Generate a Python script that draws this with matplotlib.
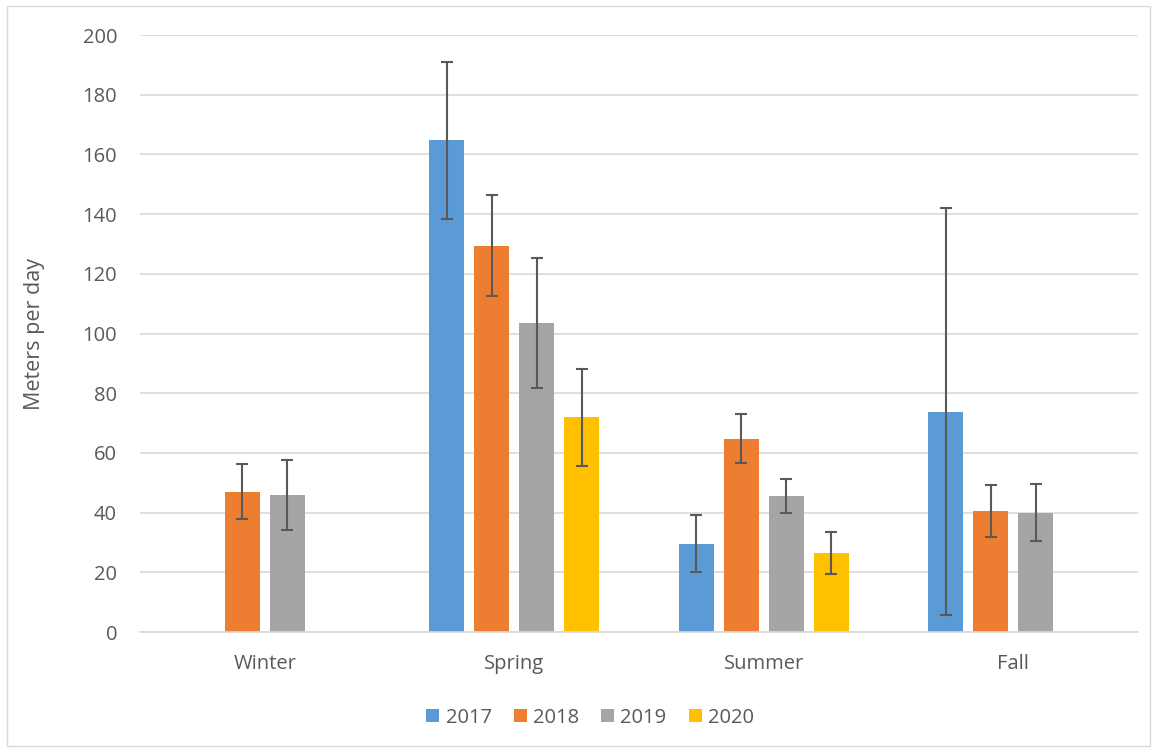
import matplotlib
matplotlib.use("Agg")
import matplotlib.pyplot as plt
from matplotlib.patches import Rectangle
import numpy as np

# Data
seasons = ["Winter", "Spring", "Summer", "Fall"]
years = ["2017", "2018", "2019", "2020"]

values = {
    "2017": [np.nan, 164.8, 29.6, 73.7],
    "2018": [46.9, 129.3, 64.7, 40.4],
    "2019": [45.8, 103.4, 45.5, 39.9],
    "2020": [np.nan, 72.0, 26.4, np.nan],
}
err_low = {
    "2017": [np.nan, 138.4, 20.1, 5.6],
    "2018": [37.8, 112.6, 56.7, 31.8],
    "2019": [34.3, 81.7, 39.8, 30.4],
    "2020": [np.nan, 55.6, 19.3, np.nan],
}
err_high = {
    "2017": [np.nan, 191.1, 39.2, 141.9],
    "2018": [56.3, 146.3, 72.9, 49.1],
    "2019": [57.7, 125.4, 51.3, 49.5],
    "2020": [np.nan, 88.1, 33.5, np.nan],
}

colors = {"2017": "#5B9BD5", "2018": "#ED7D31", "2019": "#A5A5A5", "2020": "#FFC000"}
text_color = "#595959"
grid_color = "#D9D9D9"

plt.rcParams["font.family"] = ["Open Sans", "DejaVu Sans"]

fig = plt.figure(figsize=(11.57, 7.5), dpi=100)
ax = fig.add_axes([0.121, 0.1573, 0.8626, 0.796])

# outer chart border
fig.patches.append(Rectangle((0.006, 0.006), 0.988, 0.986, transform=fig.transFigure,
                             fill=False, edgecolor="#D9D9D9", linewidth=1))

x = np.arange(len(seasons))
step = 0.18
width = 0.141
for i, yr in enumerate(years):
    vals = np.array(values[yr])
    lo = vals - np.array(err_low[yr])
    hi = np.array(err_high[yr]) - vals
    pos = x + (i - 1.5) * step
    ax.bar(pos, vals, width=width, color=colors[yr], label=yr, zorder=2)
    ax.errorbar(pos, vals, yerr=[lo, hi], fmt="none", ecolor="#595959",
                elinewidth=1.5, capsize=4.3, capthick=1.5, zorder=3)

ax.set_xlim(-0.5, 3.5)
ax.set_ylim(0, 200)
ax.set_yticks(np.arange(0, 201, 20))
ax.yaxis.grid(True, color=grid_color, linewidth=1.2, zorder=0)
ax.set_axisbelow(True)

ax.set_xticks(x)
ax.set_xticklabels(seasons)
ax.tick_params(axis="both", length=0, labelsize=14.5, colors=text_color)
ax.tick_params(axis="x", pad=16)
ax.tick_params(axis="y", pad=16.5)

for side in ["top", "right", "left"]:
    ax.spines[side].set_visible(False)
ax.spines["bottom"].set_color(grid_color)
ax.spines["bottom"].set_linewidth(1.2)

ax.set_ylabel("Meters per day", fontsize=15.5, color=text_color)
ax.yaxis.set_label_coords(-0.095, 0.5)

ax.legend(loc="center", bbox_to_anchor=(0.51, 0.043), bbox_transform=fig.transFigure,
          ncol=4, frameon=False, fontsize=14.5, labelcolor=text_color,
          handlelength=0.65, handleheight=0.65, handletextpad=0.3, columnspacing=1.1)

fig.savefig("out.png", dpi=100)
